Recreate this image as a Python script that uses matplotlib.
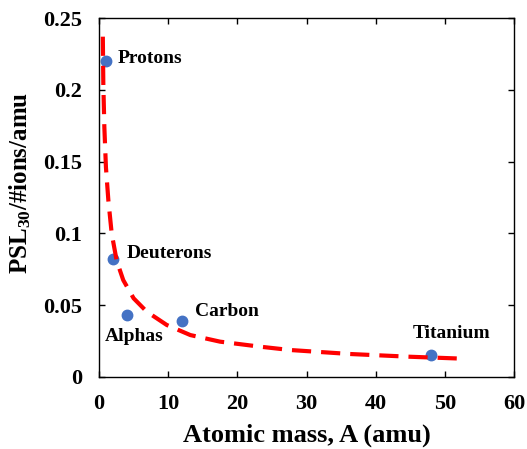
import numpy as np
import matplotlib
matplotlib.use("Agg")
import matplotlib.pyplot as plt
from matplotlib.ticker import FormatStrFormatter

plt.rcParams['font.family'] = ['Liberation Serif', 'DejaVu Serif']
plt.rcParams['font.weight'] = 'bold'
plt.rcParams['mathtext.default'] = 'regular'

# Messpunkte
ionen = ["Protons", "Deuterons", "Alphas", "Carbon", "Titanium"]
masse = [1, 2, 4, 12, 48]
psl = [0.220, 0.082, 0.043, 0.039, 0.015]

# Fitkurve
fit_a = [0.55, 0.62, 0.77, 1.0, 1.35, 1.83, 2.55, 3.5, 5.0, 6.9, 9.8,
         13.2, 17.5, 23.3, 27.6, 36.3, 44.9, 52.9]
fit_psl = [0.237, 0.2045, 0.174, 0.146, 0.123, 0.100, 0.081, 0.0675, 0.0548,
           0.0455, 0.0362, 0.0292, 0.0246, 0.0211, 0.0188, 0.016, 0.0141, 0.0127]

# Beschriftungen: Versatz in Pixel
label_offset = {"Protons": (12, 3, "left"), "Deuterons": (14, 6, "left"),
                "Alphas": (-22, -21, "left"), "Carbon": (13, 9, "left"),
                "Titanium": (-18, 22, "left")}

fig = plt.figure(figsize=(5.27, 4.49), dpi=100)
ax = fig.add_axes([0.1879, 0.1604, 0.9753 - 0.1879, 0.9599 - 0.1604])

ax.plot(fit_a, fit_psl, color="#FF0000", lw=3, dashes=(4.6, 2.4), zorder=3)
ax.plot(masse, psl, "o", color="#4472C4", markersize=7.5, zorder=2)

for name, x, y in zip(ionen, masse, psl):
    dx, dy, ha = label_offset[name]
    ax.annotate(name, (x, y), xytext=(dx * 0.72, dy * 0.72), textcoords="offset points",
                ha=ha, va="center", fontsize=14, fontweight="bold")

ax.set_xlim(0, 60)
ax.set_ylim(0, 0.25)
ax.set_xticks(np.arange(0, 61, 10))
ax.set_yticks([0, 0.05, 0.1, 0.15, 0.2, 0.25])
ax.yaxis.set_major_formatter(FormatStrFormatter('%g'))
ax.tick_params(direction="in", top=True, right=True, length=4, width=1,
               labelsize=16, pad=12)
for s in ax.spines.values():
    s.set_linewidth(1.0)

ax.set_xlabel("Atomic mass, A (amu)", fontsize=19, fontweight="bold", labelpad=7)
ax.set_ylabel(r"PSL$_{30}$/#ions/amu", fontsize=18, fontweight="bold")
ax.yaxis.set_label_coords(-0.16, 0.54)

fig.savefig("out.png", dpi=100)
